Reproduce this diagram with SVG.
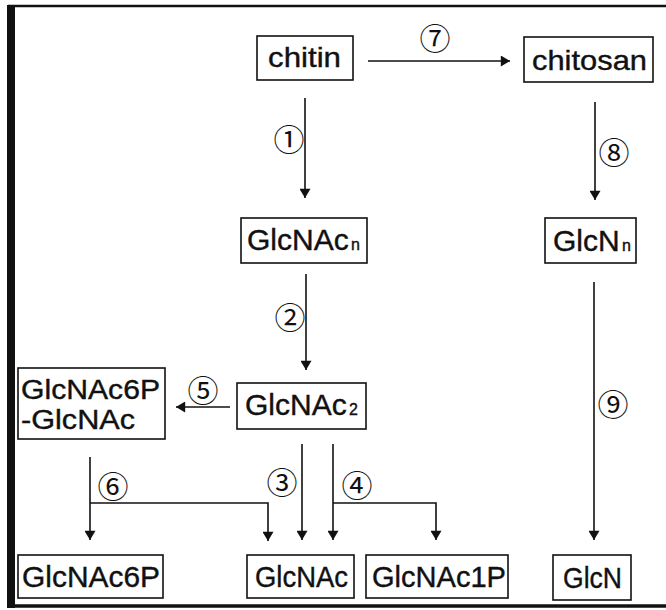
<svg xmlns="http://www.w3.org/2000/svg" width="666" height="610" viewBox="0 0 666 610">
<style>
.box{fill:#fff;stroke:#111;stroke-width:1.6}
.t{font-family:"Liberation Sans",Arial,sans-serif;font-size:30px;fill:#111;stroke:#111;stroke-width:0.4}
.lc{font-size:28px}
.two{font-size:27px}
.sub{font-size:16px}
.num{font-family:"Noto Sans CJK JP","DejaVu Sans",sans-serif;font-size:31px;fill:#111;text-anchor:middle;dominant-baseline:central}
.ln{fill:none;stroke:#111;stroke-width:1.6}
</style>
<defs>
<marker id="ah" viewBox="0 0 10 12" refX="10" refY="6" markerWidth="12" markerHeight="11" markerUnits="userSpaceOnUse" orient="auto">
<path d="M0,0 L10,6 L0,12 Z" fill="#111"/>
</marker>
</defs>
<rect width="666" height="610" fill="#fff"/>
<g id="frame">
<line x1="8" y1="6" x2="666" y2="6" stroke="#111" stroke-width="2.5"/>
<rect x="7" y="5" width="8" height="603" fill="#111"/>
<line x1="8" y1="606" x2="666" y2="606" stroke="#111" stroke-width="3.5"/>
</g>
<g id="connectors">
<line class="ln" x1="368" y1="61" x2="510" y2="61" marker-end="url(#ah)"/>
<line class="ln" x1="305" y1="98" x2="305" y2="198" marker-end="url(#ah)"/>
<line class="ln" x1="595" y1="102" x2="595" y2="200" marker-end="url(#ah)"/>
<line class="ln" x1="306" y1="274" x2="306" y2="370" marker-end="url(#ah)"/>
<line class="ln" x1="594" y1="282" x2="594" y2="540" marker-end="url(#ah)"/>
<line class="ln" x1="230" y1="407" x2="176" y2="407" marker-end="url(#ah)"/>
<line class="ln" x1="90" y1="457" x2="90" y2="540" marker-end="url(#ah)"/>
<polyline class="ln" points="90,503 268,503 268,541" marker-end="url(#ah)"/>
<line class="ln" x1="302" y1="444" x2="302" y2="540" marker-end="url(#ah)"/>
<line class="ln" x1="333" y1="444" x2="333" y2="540" marker-end="url(#ah)"/>
<polyline class="ln" points="333,503 436,503 436,540" marker-end="url(#ah)"/>
<text class="num" x="435" y="36">⑦</text>
<text class="num" x="289" y="137">①</text>
<text class="num" x="614" y="150">⑧</text>
<text class="num" x="290" y="315">②</text>
<text class="num" x="613" y="402">⑨</text>
<text class="num" x="203" y="388">⑤</text>
<text class="num" x="113" y="484">⑥</text>
<text class="num" x="282" y="480">③</text>
<text class="num" x="357" y="483">④</text>
</g>
<g id="chitin">
<rect class="box" x="257" y="36" width="96" height="44"/>
<text class="t lc" x="268" y="67" textLength="73" lengthAdjust="spacingAndGlyphs">chitin</text>
</g>
<g id="chitosan">
<rect class="box" x="524" y="37" width="129" height="45"/>
<text class="t lc" x="532" y="70" textLength="115" lengthAdjust="spacingAndGlyphs">chitosan</text>
</g>
<g id="GlcNAcn">
<rect class="box" x="241" y="218" width="126" height="45"/>
<text class="t" x="247" y="250">GlcNAc</text>
<text class="t sub" x="351" y="250">n</text>
</g>
<g id="GlcNn">
<rect class="box" x="545" y="218" width="91" height="45"/>
<text class="t" x="553" y="251">GlcN</text>
<text class="t sub" x="622" y="251">n</text>
</g>
<g id="GlcNAc2">
<rect class="box" x="237" y="383" width="129" height="46"/>
<text class="t" x="245" y="415">GlcNAc</text>
<text class="t sub" x="349" y="415" font-size="17">2</text>
</g>
<g id="GlcNAc6P-GlcNAc">
<rect class="box" x="18" y="368" width="147" height="71"/>
<text class="t two" x="21" y="399" textLength="139" lengthAdjust="spacingAndGlyphs">GlcNAc6P</text>
<text class="t two" x="21" y="429" textLength="114" lengthAdjust="spacingAndGlyphs">-GlcNAc</text>
</g>
<g id="GlcNAc6P">
<rect class="box" x="18" y="555" width="145" height="43"/>
<text class="t" x="22" y="587" textLength="138" lengthAdjust="spacingAndGlyphs">GlcNAc6P</text>
</g>
<g id="GlcNAc">
<rect class="box" x="247" y="555" width="107" height="43"/>
<text class="t" x="255" y="587" textLength="93" lengthAdjust="spacingAndGlyphs">GlcNAc</text>
</g>
<g id="GlcNAc1P">
<rect class="box" x="366" y="555" width="142" height="43"/>
<text class="t" x="372" y="587" textLength="134" lengthAdjust="spacingAndGlyphs">GlcNAc1P</text>
</g>
<g id="GlcN">
<rect class="box" x="553" y="555" width="78" height="45"/>
<text class="t" x="563" y="588" textLength="59" lengthAdjust="spacingAndGlyphs">GlcN</text>
</g>
</svg>
